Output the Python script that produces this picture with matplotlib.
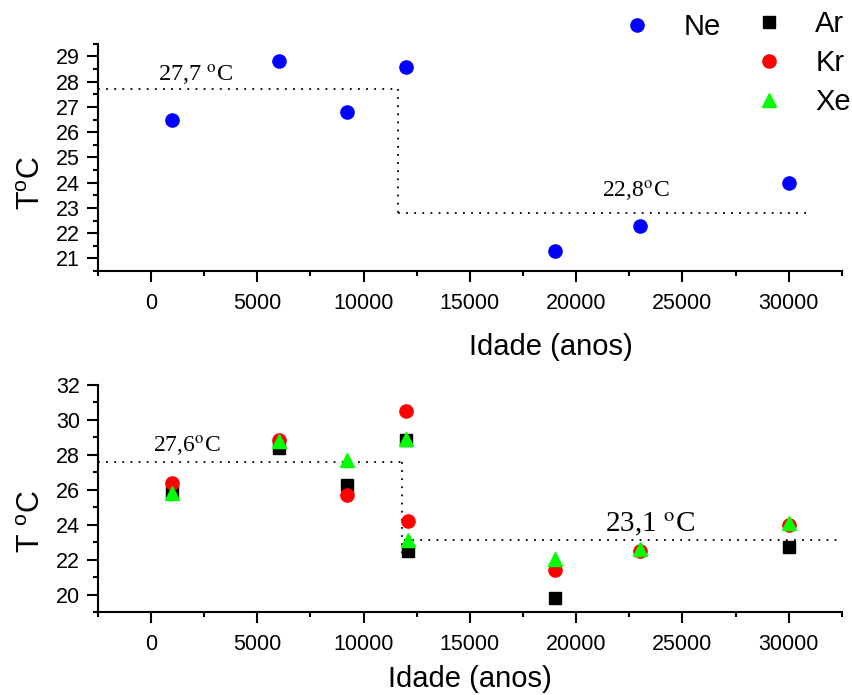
import matplotlib
matplotlib.use("Agg")
import matplotlib.pyplot as plt
from matplotlib.ticker import MultipleLocator

plt.rcParams['font.family'] = ['Liberation Sans', 'DejaVu Sans']
plt.rcParams['mathtext.fontset'] = 'custom'
plt.rcParams['mathtext.rm'] = 'Liberation Sans'
plt.rcParams['mathtext.it'] = 'Liberation Sans:italic'

# --- Ne paleotemperatures (top panel) ---
ne_age = [1000, 6000, 9200, 12000, 19000, 23000, 30000]
ne_T = [26.5, 28.8, 26.8, 28.6, 21.3, 22.3, 24.0]

# --- Ar, Kr, Xe paleotemperatures (bottom panel) ---
ar_age = [1000, 6000, 9200, 12000, 12100, 19000, 30000]
ar_T = [25.9, 28.4, 26.3, 28.85, 22.5, 19.8, 22.7]
kr_age = [1000, 6000, 9200, 12000, 12100, 19000, 23000, 30000]
kr_T = [26.4, 28.85, 25.7, 30.5, 24.2, 21.4, 22.5, 24.0]
xe_age = [1000, 6000, 9200, 12000, 12100, 19000, 23000, 30000]
xe_T = [25.8, 28.8, 27.7, 28.9, 23.1, 22.05, 22.6, 24.1]

# mean temperature levels (Holocene / glacial) and the age where they switch
top_levels = [27.7, 22.8]
top_switch = 11600
top_end = 31000
bot_levels = [27.6, 23.1]
bot_switch = 11800
bot_vline_low = 22.1
bot_end = 32500

xlim = (-2500, 32500)

fig = plt.figure(figsize=(8.52, 6.95), dpi=100)
ax1 = fig.add_axes([0.115, 0.610, 0.873, 0.327])
ax2 = fig.add_axes([0.115, 0.1194, 0.873, 0.3266])

dot = (0, (1, 3.5))
serif = ['Liberation Serif', 'DejaVu Serif']


def style(ax):
    for s in ('top', 'right'):
        ax.spines[s].set_visible(False)
    for s in ('left', 'bottom'):
        ax.spines[s].set_linewidth(1.5)
    ax.tick_params(which='major', direction='out', length=8, width=1.5,
                   labelsize=15.5, pad=5)
    ax.tick_params(which='minor', direction='out', length=3.6, width=1.5)
    ax.tick_params(axis='x', which='major', pad=8)
    ax.xaxis.set_major_locator(MultipleLocator(5000))
    ax.xaxis.set_minor_locator(MultipleLocator(2500))
    ax.set_xlim(*xlim)


def level_label(value, gap):
    return f'{value:.1f}'.replace('.', ',') + gap + '$^{\\mathrm{o}}$C'


# top panel
style(ax1)
ax1.set_ylim(20.5, 29.5)
ax1.yaxis.set_major_locator(MultipleLocator(1))
ax1.yaxis.set_minor_locator(MultipleLocator(0.5))
ax1.plot([xlim[0], top_switch], [top_levels[0]] * 2, color='black', lw=1.3, ls=dot)
ax1.plot([top_switch, top_switch], top_levels, color='black', lw=1.3, ls=dot)
ax1.plot([top_switch, top_end], [top_levels[1]] * 2, color='black', lw=1.3, ls=dot)
ax1.plot(ne_age, ne_T, 'o', color='#0000ff', ms=9.5, label='Ne', clip_on=False)
ax1.text(330, 27.98, level_label(top_levels[0], ' '),
         family=serif, math_fontfamily='stix', fontsize=17.5, va='baseline')
ax1.text(21226, 23.41, level_label(top_levels[1], ''),
         family=serif, math_fontfamily='stix', fontsize=17, va='baseline')
ax1.set_ylabel('T$^{\\mathrm{o}}$C', fontsize=22, va='center')
ax1.yaxis.set_label_coords(-0.089, 0.39)
ax1.set_xlabel('Idade (anos)', fontsize=21, va='center')
ax1.xaxis.set_label_coords(0.609, -0.335)

# bottom panel
style(ax2)
ax2.set_ylim(19, 32)
ax2.yaxis.set_major_locator(MultipleLocator(2))
ax2.yaxis.set_minor_locator(MultipleLocator(1))
ax2.plot([xlim[0], bot_switch], [bot_levels[0]] * 2, color='black', lw=1.3, ls=dot)
ax2.plot([bot_switch, bot_switch], [bot_levels[0], bot_vline_low], color='black', lw=1.3, ls=dot)
ax2.plot([bot_switch + 100, bot_end], [bot_levels[1]] * 2, color='black', lw=1.3, ls=dot)
ax2.plot(ar_age, ar_T, 's', color='black', ms=8.5, label='Ar')
ax2.plot(kr_age, kr_T, 'o', color='#ff0000', ms=9.5, label='Kr')
ax2.plot(xe_age, xe_T, '^', color='#00ff00', ms=10, label='Xe')
ax2.text(110, 28.12, level_label(bot_levels[0], ''),
         family=serif, math_fontfamily='stix', fontsize=17, va='baseline')
ax2.text(21380, 23.6, level_label(bot_levels[1], ' '),
         family=serif, math_fontfamily='stix', fontsize=21, va='baseline')
ax2.set_ylabel('T $^{\\mathrm{o}}$C', fontsize=22, va='center')
ax2.yaxis.set_label_coords(-0.089, 0.40)
ax2.set_xlabel('Idade (anos)', fontsize=21, va='center')
ax2.xaxis.set_label_coords(0.5, -0.295)

# legends in the upper right corner of the figure
h1, l1 = ax1.get_legend_handles_labels()
fig.legend(h1, l1, loc='center left', bbox_to_anchor=(622 / 852, 1 - 27 / 695),
           frameon=False, fontsize=21, handlelength=1.0, handletextpad=1.1,
           borderpad=0, borderaxespad=0)
h2, l2 = ax2.get_legend_handles_labels()
fig.legend(h2, l2, loc='center left', bbox_to_anchor=(754 / 852, 1 - 63 / 695),
           frameon=False, fontsize=21, handlelength=1.0, handletextpad=1.1,
           labelspacing=0.37, borderpad=0, borderaxespad=0)

fig.savefig('out.png', dpi=100)
